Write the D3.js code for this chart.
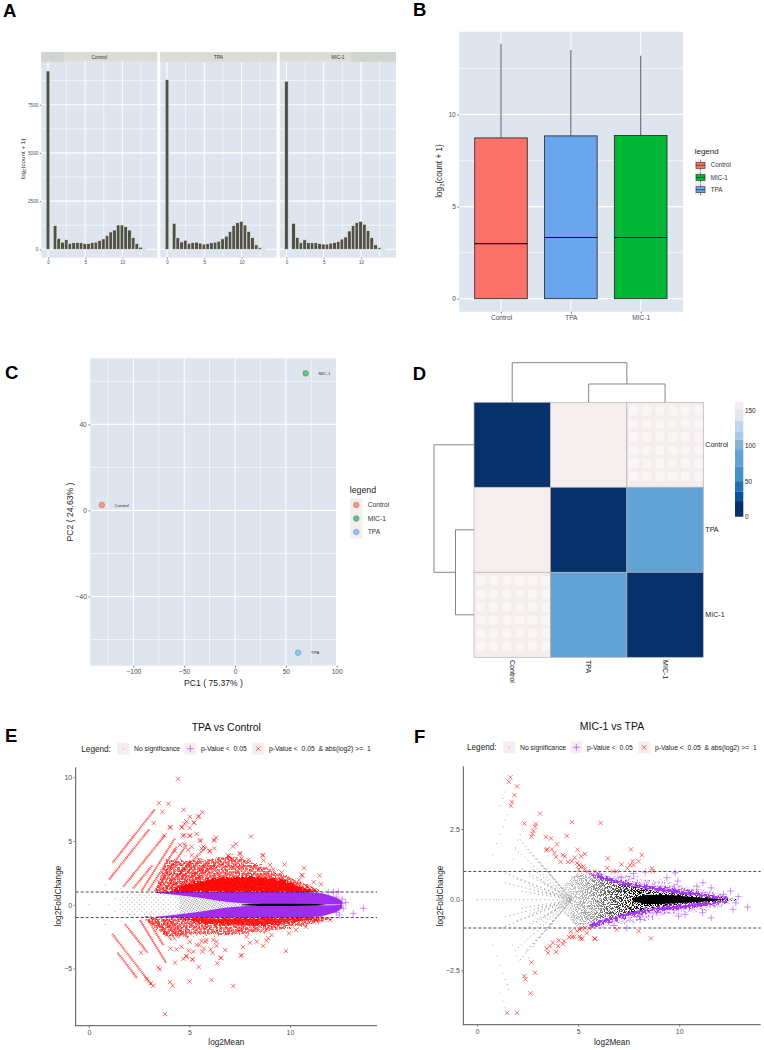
<!DOCTYPE html>
<html>
<head>
<meta charset="utf-8">
<style>
html, body { margin: 0; padding: 0; background: #fff; }
svg { display: block; }
text { font-family: "Liberation Sans", Arial, sans-serif; white-space: pre; }
</style>
<script src="https://cdnjs.cloudflare.com/ajax/libs/d3/7.8.5/d3.min.js"></script>
</head>
<body>
<svg id="fig" width="764" height="1050"></svg>
<script>
// panel A - histogram counts
const histBins = [0, 0.95, 1.45, 1.95, 2.45, 2.95, 3.45, 3.95, 4.45, 4.95, 5.45, 5.95, 6.45, 6.95, 7.45, 7.95, 8.45, 8.95, 9.45, 9.95, 10.45, 10.95, 11.45, 11.95, 12.45, 12.95];
const histControl = [9250, 1230, 570, 370, 500, 310, 340, 350, 340, 290, 300, 360, 370, 460, 540, 720, 900, 1000, 1260, 1260, 1180, 1000, 620, 300, 110, 20];
const histTPA = [8800, 1350, 600, 380, 470, 310, 350, 370, 320, 270, 290, 340, 370, 420, 540, 680, 930, 1230, 1380, 1450, 1260, 930, 610, 230, 80, 15];
const histMIC = [8720, 1350, 620, 340, 490, 350, 340, 350, 300, 270, 270, 320, 360, 410, 530, 640, 950, 1230, 1380, 1450, 1300, 970, 610, 230, 80, 15];

// panel B - boxes
const boxOrder = ['Control', 'TPA', 'MIC-1'];
const boxQ3 = [8.73, 8.84, 8.86];
const boxMedian = [2.99, 3.32, 3.32];
const boxQ1 = [0, 0, 0];
const boxTop = [13.84, 13.5, 13.2];
const boxColors = ['#fc7269', '#6aa5ee', '#00b735'];

// panel C - PCA
const pcaNames = ['Control', 'MIC-1', 'TPA'];
const pcaX = [-131, 69.5, 62];
const pcaY = [2.5, 63.7, -66.2];
const pcaColors = ['#f29b91', '#57c97f', '#8fc5f0'];
const pcaStroke = ['#b5776f', '#3f9a60', '#6d97b8'];

// panel D - distance matrix
const heatOrder = ['Control', 'TPA', 'MIC-1'];
const heatValues = [
    [0, 160, 161],
    [160, 0, 92],
    [161, 92, 0]
];
const heatSteps = [0, 22, 35, 50, 70, 95, 108, 120, 135, 150];
const heatColors = ['#08306b', '#08519c', '#2171b5', '#4292c6', '#62a3d6', '#8ab3d0', '#a9c9e8', '#bcd6f0', '#dee6f2', '#f6eeee'];
const dendroHeights = [160, 74];

// panel E - MA plot, dense parts are read as envelopes [m, outer, inner]
const eRedSparseUp = [[3.3, 1.0, 1], [3.86, 3.5, 1], [5.5, 3.5, 1], [7.2, 3.8, 1], [8.84, 2.9, 1], [10.5, 1.8, 1], [11.5, 1.15, 1], [11.7, 1, 1]];
const eRedDenseUp = [[4.0, 1.0, 1], [4.7, 1.55, 1], [6.35, 2.1, 1], [8, 2.2, 1], [9.67, 1.95, 1], [10.5, 1.4, 1], [11.3, 1.05, 1]];
const eRedSparseDown = [[2.7, -1, -1], [3.86, -2.5, -1], [5.5, -2.35, -1], [7.2, -2.35, -1], [8.84, -2.1, -1], [10.5, -1.7, -1], [12.1, -1.2, -1]];
const eRedDenseDown = [[4.2, -1, -1], [5.5, -1.45, -1], [7.2, -1.6, -1], [8.84, -1.6, -1], [10.5, -1.3, -1], [11.65, -1.05, -1]];
const ePurpleUp = [[3.3, 1, 0.95], [4.5, 1, 0.75], [5.5, 1, 0.55], [6.5, 1, 0.3], [7, 1, 0.2], [8, 1, 0.08], [9, 1, 0.05], [10.5, 1.02, 0.03], [11, 0.98, 0.03], [11.6, 0.9, 0.03], [12, 0.72, 0.03], [12.4, 0.5, 0.02], [12.6, 0.25, 0]];
const ePurpleDown = [[3.3, -1, -0.95], [4.5, -1, -0.75], [5.5, -1, -0.55], [6.5, -1, -0.3], [7, -1, -0.2], [8, -1, -0.08], [9, -1, -0.05], [10.5, -1.02, -0.03], [11, -0.98, -0.03], [11.6, -0.9, -0.03], [12, -0.72, -0.03], [12.4, -0.5, -0.02], [12.6, -0.25, 0]];
const eGrayLattice = [[1.5, 0.7, -0.7], [2.4, 1, -1], [3.3, 0.95, -0.95], [4.5, 0.75, -0.75]];
const eGrayWedge = [[4.5, 0.75, -0.75], [5.5, 0.55, -0.55], [6.5, 0.3, -0.3], [7, 0.2, -0.2], [8.2, 0.08, -0.08]];
const eBlackCore = [[7.6, 0.03, -0.03], [8.5, 0.09, -0.09], [10, 0.09, -0.09], [11.3, 0.06, -0.06], [11.8, 0, 0]];
const eRuns = [
    [1.18, 3.3, 3.28, 7.49], [1.01, 2.0, 3.0, 5.92], [1.71, 1.42, 3.78, 5.47], [2.2, 1.29, 3.17, 3.12],
    [2.62, 1.1, 4.28, 5.21], [2.95, 1.1, 4.36, 4.56], [3.28, 1.1, 4.86, 4.7], [3.7, 1.15, 5.85, 4.56],
    [4.0, 1.2, 5.6, 3.6], [4.3, 1.2, 6.0, 3.3], [4.7, 1.3, 6.3, 3.2],
    [1.16, -2.29, 3.12, -6.29], [1.79, -1.51, 2.92, -3.76], [1.43, -3.76, 2.4, -5.77], [2.54, -1.19, 3.83, -4.54],
    [2.95, -1.19, 3.7, -3.15], [3.28, -1.19, 4.1, -2.76], [3.7, -1.19, 4.5, -2.6], [4.0, -1.2, 4.9, -2.6]
];
const eRed = [
    [4.43, 9.88], [3.48, 7.97], [3.96, 7.92], [4.71, 7.45], [3.65, 7.29], [5.64, 7.26], [5.02, 6.9], [5.47, 6.95], [3.22, 6.4], [4.05, 6.09],
    [4.63, 6.09], [5.22, 6.45], [5.01, 6.03], [4.76, 6.35], [5.36, 5.56], [4.68, 5.41], [5.02, 5.43], [6.32, 5.27], [8.06, 5.35], [6.22, 5.04],
    [5.57, 5.04], [7.31, 4.78], [7.16, 4.57], [7.51, 4.04], [7.6, 3.65], [8.66, 3.86], [8.69, 3.47], [9.73, 3.15], [10.7, 2.87], [11.48, 2.29],
    [10.63, 2.29], [11.18, 1.77], [11.54, 1.61], [5.99, 4.2], [5.6, 4.41], [5.11, 3.89], [4.74, 4.75], [4.28, 4.23], [3.75, 5.43],
    [7.51, 3.98], [6.93, 3.86], [7.93, 3.52], [8.64, 3.9], [8.26, 3.12], [9.0, 3.12], [9.17, 2.78], [9.59, 2.53], [10.57, 2.34], [10.46, 1.95],
    [10.86, 1.41], [11.24, 1.16], [4.61, 6.07], [4.86, 6.52], [5.23, 6.44], [5.44, 6.9], [4.03, 6.07], [5.03, 5.42], [4.74, 5.47], [5.52, 5.03],
    [6.24, 5.08], [6.24, 4.43], [5.69, 4.56], [6.02, 4.22], [4.94, 4.3], [5.11, 4.56], [4.53, 4.69], [6.43, 3.56], [6.93, 3.84],
    [3.78, -8.57], [7.18, -6.37], [6.1, -5.88], [5.01, -6.01], [4.03, -6.06], [4.16, -6.35], [3.2, -6.35], [3.07, -6.16], [5.46, -4.88], [3.45, -4.91],
    [3.52, -5.06], [2.87, -5.82], [6.38, -4.59], [6.55, -4.18], [5.14, -4.3], [4.84, -3.99], [4.69, -4.23], [4.28, -4.54], [7.6, -3.94], [7.55, -3.99],
    [9.8, -3.63], [8.67, -3.23], [7.66, -3.31], [5.72, -3.42], [6.05, -3.49], [4.96, -3.6], [4.05, -3.44], [6.78, -3.55], [6.19, -2.76], [5.6, -2.84],
    [8.84, -2.81], [8.34, -2.89], [8.01, -2.97], [7.84, -2.5], [9.09, -2.37], [9.95, -2.24], [11.99, -1.19], [4.25, -2.63], [4.61, -3.29], [5.36, -3.15],
    [5.85, -2.76], [6.35, -2.89], [2.59, -3.76], [8.92, -2.63], [10.3, -1.98], [10.79, -1.72], [6.85, -2.24], [4.36, -3.5], [5.19, -3.68], [4.86, -4.07],
    [5.16, -4.28], [5.65, -3.68], [6.15, -3.76], [6.57, -4.15], [5.8, -2.9], [5.49, -3.16], [5.02, -2.9], [6.35, -3.22]
];
const ePurple = [[13.65, -0.27], [13.15, -0.67], [12.77, 0.17], [12.4, 1.03], [12.16, 0.98], [12.45, -0.8], [12.65, -0.27], [12.55, 0.1], [11.9, 1.0], [12.3, 0.6], [12.6, 0.45], [12.3, -0.6]];
const eGray = [[0, 0], [0.98, 0], [0.8, 1.55], [0.8, -1.55], [1.3, 0.5], [1.3, -0.5], [1.6, 1.3], [1.6, -1.3]];

// panel F - MA plot
const fRedUp = [
    [1.65, 4.33], [1.57, 4.17], [1.98, 4.01], [1.85, 3.7], [1.72, 3.46], [1.67, 3.33], [3.12, 3.05], [2.34, 2.7], [2.9, 2.68], [2.87, 2.59],
    [2.79, 2.44], [2.74, 2.33], [2.69, 2.23], [4.69, 2.75], [6.11, 2.72], [4.44, 2.26], [3.4, 2.22], [3.66, 2.17], [3.96, 1.96], [4.97, 1.77],
    [3.47, 1.79], [3.43, 1.75], [3.7, 1.78], [3.83, 1.65], [3.91, 1.51], [4.24, 1.58], [4.34, 1.54], [5.33, 1.62], [5.15, 1.54], [8.15, 1.58],
    [7.61, 1.78], [6.47, 1.46], [7.69, 1.37], [7.99, 1.36], [7.15, 1.25], [7.74, 1.23], [6.44, 1.12], [7.57, 1.23], [7.44, 1.11], [8.66, 1.11],
    [8.7, 1.01], [4.83, 1.49], [4.5, 1.34], [4.69, 1.36], [4.13, 1.34], [4.95, 1.3], [5.05, 1.23], [5.12, 1.16], [5.26, 1.18], [5.03, 1.07],
    [5.31, 1.07], [5.48, 1.0], [5.84, 1.0], [6.72, 1.0], [6.91, 1.0]
];
const fRedDown = [
    [1.49, -4], [1.98, -4], [2.64, -3.31], [2.34, -2.7], [2.39, -2.81], [2.87, -2.58], [2.69, -2.22], [3.45, -1.73], [3.51, -1.88], [3.61, -1.65],
    [3.75, -1.52], [3.91, -1.85], [4.01, -1.64], [4.04, -1.44], [4.26, -1.57], [4.31, -1.46], [4.55, -1.32], [4.69, -1.32], [4.79, -1.31], [5.07, -1.3],
    [5.12, -1.38], [5.21, -1.38], [5.43, -1.18], [5.81, -1.37], [5.84, -1.38], [6.91, -1.05], [7.99, -1.11], [8.6, -1.37], [4.64, -1.13], [4.93, -1.1],
    [5.07, -1.05], [5.18, -1.01], [5.35, -1.0], [5.54, -1.01]
];
const fPurple = [
    [8.32, 0.98], [9.8, 0.95], [9.39, 0.78], [9.93, 0.66], [10.87, 0.48], [11.17, 0.6], [11.58, 0.42], [12.19, 0.19], [12.54, 0.31], [12.92, 0.11],
    [12.8, -0.11], [13.38, -0.26], [12.66, -0.34], [11.58, -0.64], [11.16, -0.46], [10.29, -0.52], [9.97, -0.58], [8.89, -0.46], [8.07, -0.7], [6.78, -0.91],
    [6.09, 0.9], [7.13, 0.78], [7.74, 0.93], [8.04, -0.58], [7.41, -1.0]
];
const fGray = [
    [0, 0], [0.97, 0], [1.39, 3.81], [1.27, 3.58], [1.14, 3.33], [1.5, 3.02], [1.39, 2.82], [1.3, 2.58], [1.14, 2.31], [0.97, 1.99], [0.78, 1.58],
    [2.24, 2.49], [2.13, 2.31], [2.0, 2.11], [1.91, 1.84], [1.8, 1.43], [0.78, -1.6], [0.98, -2.0], [1.14, -2.32], [1.27, -2.6], [1.39, -2.82],
    [1.5, -3.0], [1.55, -3.17], [1.14, -3.31], [1.27, -3.58], [1.39, -3.8], [1.77, -1.6], [1.96, -2.0], [2.05, -2.18], [2.46, -1.82], [2.54, -2.06], [2.79, -1.65]
];
const fRays = [
    [2.13, 2.13], [2.46, 1.78], [1.88, 1.8], [2.79, 1.57], [3.12, 1.31], [3.45, 1.08], [1.2, 1.0], [1.96, 0.74], [1.39, 0.6], [2.21, 1.1], [2.79, 1.07],
    [3.0, 0.8], [3.3, 0.6], [2.6, 0.5], [3.0, 0.3], [2.2, 0.3], [3.6, 0.85], [2.6, 0.85], [3.4, 0.25],
    [2.13, -2.13], [2.46, -1.78], [1.88, -1.8], [2.79, -1.57], [3.12, -1.31], [3.45, -1.08], [1.2, -1.0], [1.96, -0.74], [1.39, -0.6], [2.21, -1.1], [2.79, -1.07],
    [3.0, -0.8], [3.3, -0.6], [2.6, -0.5], [3.0, -0.3], [2.2, -0.3], [3.6, -0.85], [2.6, -0.85], [3.4, -0.25],
    [0, 0]
];
const fRayCenter = [4.69, 0];
const fSpeckle = [[4.1, 0.3, -0.3], [4.9, 0.95, -0.92], [5.6, 0.85, -0.83], [7.24, 0.55, -0.5], [8.9, 0.3, -0.26], [10.56, 0.16, -0.14], [11.7, 0.08, -0.08], [12.9, 0.03, -0.03]];
const fBlackCore = [[7.7, 0.06, -0.06], [8.4, 0.18, -0.16], [9.7, 0.16, -0.13], [11.4, 0.05, -0.05], [12.3, 0, 0]];
const fPurpleUp = [[5.6, 0.95, 0.84], [7.24, 0.63, 0.54], [8.9, 0.45, 0.31], [10.56, 0.28, 0.15], [11.7, 0.16, 0.07], [12.4, 0.08, 0.03]];
const fPurpleDown = [[5.6, -1, -0.85], [7.24, -0.63, -0.49], [8.9, -0.39, -0.26], [10.56, -0.28, -0.13], [11.7, -0.16, -0.07], [12.4, -0.08, -0.03]];
const fPurpleScatterUp = [[5.6, 1, 0.9], [7.24, 0.85, 0.6], [8.9, 0.68, 0.4], [10.56, 0.45, 0.2], [11.7, 0.3, 0.12], [12.5, 0.1, 0.05]];
const fPurpleScatterDown = [[5.6, -1, -0.9], [7.24, -0.85, -0.55], [8.9, -0.62, -0.3], [10.56, -0.45, -0.2], [11.7, -0.32, -0.1], [12.5, -0.12, -0.05]];

const panelBg = '#dee5ee';
const tickGrey = '#4d4d4d';
const keyBg = '#f6eeee';
const redMark = '#ff0000';
const purpleMark = '#a22bf0';

const svg = d3.select('#fig');
const defs = svg.append('defs');

function addTile(id, size, bg, draw, rotate) {
    const tile = defs.append('pattern').attr('id', id)
        .attr('patternUnits', 'userSpaceOnUse')
        .attr('width', size).attr('height', size);
    if (rotate) tile.attr('patternTransform', `rotate(${rotate})`);
    if (bg) tile.append('rect').attr('width', size).attr('height', size).attr('fill', bg);
    draw(tile);
}
addTile('crossTile', 3.6, 'rgba(255,40,40,0.5)', t => t.append('path')
    .attr('d', 'M0.4,0.4L3.2,3.2M3.2,0.4L0.4,3.2').attr('stroke', redMark).attr('stroke-width', 0.7).attr('fill', 'none'));
addTile('plusTile', 4, 'rgba(162,43,240,0.2)', t => t.append('path')
    .attr('d', 'M2,0.3V3.7M0.3,2H3.7').attr('stroke', purpleMark).attr('stroke-width', 0.8).attr('fill', 'none'));
addTile('latticeDots', 3.4, null, t => t.append('rect').attr('width', 0.9).attr('height', 0.9).attr('fill', '#a5a5a5'), 45);
addTile('wedgeDots', 1.9, null, t => t.append('rect').attr('width', 1).attr('height', 1).attr('fill', '#8a8a8a'), 30);

// edge roughening and speckle so the dense clouds do not read as flat polygons
const rough = defs.append('filter').attr('id', 'rough')
    .attr('x', '-5%').attr('y', '-25%').attr('width', '110%').attr('height', '150%')
    .attr('color-interpolation-filters', 'sRGB');
rough.append('feTurbulence').attr('type', 'fractalNoise').attr('baseFrequency', 0.45).attr('numOctaves', 2).attr('seed', 4).attr('result', 'n');
rough.append('feDisplacementMap').attr('in', 'SourceGraphic').attr('in2', 'n').attr('scale', 8)
    .attr('xChannelSelector', 'R').attr('yChannelSelector', 'G');
const addSpeckle = (id, freq, slope, cut, shift) => {
    const sp = defs.append('filter').attr('id', id)
        .attr('x', '-5%').attr('y', '-25%').attr('width', '110%').attr('height', '150%')
        .attr('color-interpolation-filters', 'sRGB');
    sp.append('feTurbulence').attr('type', 'fractalNoise').attr('baseFrequency', freq).attr('numOctaves', 2).attr('seed', 9).attr('result', 'n');
    sp.append('feDisplacementMap').attr('in', 'SourceGraphic').attr('in2', 'n').attr('scale', shift)
        .attr('xChannelSelector', 'R').attr('yChannelSelector', 'G').attr('result', 'd');
    sp.append('feColorMatrix').attr('in', 'n').attr('type', 'matrix')
        .attr('values', `0 0 0 0 0  0 0 0 0 0  0 0 0 0 0  ${slope} 0 0 0 ${cut}`).attr('result', 'm');
    sp.append('feComposite').attr('in', 'd').attr('in2', 'm').attr('operator', 'in');
};
addSpeckle('speckleCoarse', 0.5, 14, -6.6, 9);
addSpeckle('speckleRed', 0.5, 14, -5.6, 9);
addSpeckle('speckleFine', 1.1, 16, -7.6, 4);

function letter(txt, x, y) {
    svg.append('text').attr('x', x).attr('y', y)
        .attr('font-size', 18.5).attr('font-weight', 'bold').attr('fill', '#000').text(txt);
}
letter('A', 3, 16.7);
letter('B', 413, 16);
letter('C', 5, 379);
letter('D', 412.7, 380);
letter('E', 5, 741.7);
letter('F', 414, 743);

// grey ggplot panel with grid
function ggPanel(x, y, xMajor, xMinor, yMajor, yMinor) {
    const [x0, x1] = x.range();
    const [y0, y1] = y.range();
    const g = svg.append('g');
    g.append('rect').attr('x', x0).attr('y', y1).attr('width', x1 - x0).attr('height', y0 - y1).attr('fill', panelBg);
    const vLine = (vals, w) => g.selectAll(null).data(vals).enter().append('line')
        .attr('x1', d => x(d)).attr('x2', d => x(d)).attr('y1', y0).attr('y2', y1)
        .attr('stroke', '#fff').attr('stroke-width', w);
    const hLine = (vals, w) => g.selectAll(null).data(vals).enter().append('line')
        .attr('y1', d => y(d)).attr('y2', d => y(d)).attr('x1', x0).attr('x2', x1)
        .attr('stroke', '#fff').attr('stroke-width', w);
    vLine(xMinor, 0.6); hLine(yMinor, 0.6);
    vLine(xMajor, 1.1); hLine(yMajor, 1.1);
    return g;
}

function styleAxis(g, size, color) {
    g.select('.domain').remove();
    g.selectAll('.tick line').attr('stroke', '#333').attr('stroke-width', 0.6);
    g.selectAll('.tick text').attr('font-size', size).attr('fill', color || tickGrey)
        .attr('font-family', '"Liberation Sans", Arial, sans-serif');
}

function logLabel(x, y, size) {
    const t = svg.append('text').attr('transform', `translate(${x},${y}) rotate(-90)`)
        .attr('text-anchor', 'middle').attr('font-size', size).attr('fill', '#222');
    t.append('tspan').text('log');
    t.append('tspan').attr('font-size', size * 0.7).attr('dy', size * 0.25).text('2');
    t.append('tspan').attr('dy', -size * 0.25).text('(count + 1)');
}

// A
const facetX = [[41.3, 157.3], [160.3, 276.7], [279.7, 396]];
const facetNames = ['Control', 'TPA', 'MIC-1'];
const facetData = [histControl, histTPA, histMIC];
const facetStripEdge = [[41.3, 64, '#d0d5d0', '#dcdcd3'], [160.3, 276.7, '#dcdcd3', '#dcdcd3'], [351, 396, '#d0d5d0', '#dcdcd3']];
const histY = d3.scaleLinear().domain([-436, 9730]).range([257.7, 61.7]);
facetX.forEach((range, i) => {
    const x = d3.scaleLinear().domain([-0.9, 14.7]).range(range);
    ggPanel(x, histY, [0, 5, 10], [2.5, 7.5, 12.5], [0, 2500, 5000, 7500], [1250, 3750, 6250, 8750]);
    svg.append('rect').attr('x', range[0]).attr('y', 52).attr('width', range[1] - range[0]).attr('height', 9.7)
        .attr('fill', facetStripEdge[i][3]);
    svg.append('rect').attr('x', facetStripEdge[i][0]).attr('y', 52)
        .attr('width', facetStripEdge[i][1] - facetStripEdge[i][0]).attr('height', 9.7)
        .attr('fill', facetStripEdge[i][2]);
    svg.append('text').attr('x', (range[0] + range[1]) / 2 ).attr('y', 59).attr('text-anchor', 'middle')
        .attr('font-size', 4.8).attr('fill', '#333').text(facetNames[i]);
    svg.append('g').selectAll('rect').data(facetData[i]).enter().append('rect')
        .attr('x', (d, k) => x(histBins[k]) - 1.85)
        .attr('width', 3.7)
        .attr('y', d => histY(d))
        .attr('height', d => histY(0) - histY(d))
        .attr('fill', '#4f5249')
        .attr('stroke', '#e8e8e0').attr('stroke-width', 0.7);
    svg.append('g').attr('transform', 'translate(0,257.7)')
        .call(d3.axisBottom(x).tickValues([0, 5, 10]).tickSize(1.5).tickPadding(1.5))
        .call(g => styleAxis(g, 4.6));
});
svg.append('g').attr('transform', 'translate(41.3,0)')
    .call(d3.axisLeft(histY).tickValues([0, 2500, 5000, 7500]).tickFormat(d3.format('d')).tickSize(1.5).tickPadding(1.5))
    .call(g => styleAxis(g, 4.6));
logLabel(24.5, 159, 6.2);

// B
const boxX = d3.scalePoint().domain(boxOrder).range([501, 640.7]);
const boxY = d3.scaleLinear().domain([-0.71, 14.5]).range([311.7, 31.7]);
ggPanel(d3.scaleLinear().domain([459.3, 683]).range([459.3, 683]), boxY, boxOrder.map(boxX), [], [0, 5, 10], [2.5, 7.5, 12.5]);
boxOrder.forEach((name, i) => {
    const cx = boxX(name);
    svg.append('line').attr('x1', cx).attr('x2', cx).attr('y1', boxY(boxTop[i])).attr('y2', boxY(boxQ3[i]))
        .attr('stroke', '#666').attr('stroke-width', 1.1);
    svg.append('rect').attr('x', cx - 26.3).attr('width', 52.6)
        .attr('y', boxY(boxQ3[i])).attr('height', boxY(boxQ1[i]) - boxY(boxQ3[i]))
        .attr('fill', boxColors[i]).attr('stroke', '#333').attr('stroke-width', 0.9);
    svg.append('line').attr('x1', cx - 26.3).attr('x2', cx + 26.3).attr('y1', boxY(boxMedian[i])).attr('y2', boxY(boxMedian[i]))
        .attr('stroke', '#111').attr('stroke-width', 1.2);
});
svg.append('g').attr('transform', 'translate(0,311.7)')
    .call(d3.axisBottom(boxX).tickSize(2).tickPadding(2))
    .call(g => styleAxis(g, 6.6));
svg.append('g').attr('transform', 'translate(459.3,0)')
    .call(d3.axisLeft(boxY).tickValues([0, 5, 10]).tickSize(2).tickPadding(1.5))
    .call(g => styleAxis(g, 6.6));
logLabel(441.5, 171, 8.2);
svg.append('text').attr('x', 694.7).attr('y', 154).attr('font-size', 8).attr('fill', '#222').text('legend');
const boxLegend = ['Control', 'MIC-1', 'TPA'];
const boxLegendColors = ['#fc7269', '#00b735', '#6aa5ee'];
const boxLegendY = d3.scalePoint().domain(boxLegend).range([165.3, 189.7]);
boxLegend.forEach((name, i) => {
    const cy = boxLegendY(name);
    svg.append('rect').attr('x', 695).attr('y', cy - 6).attr('width', 11).attr('height', 12).attr('fill', keyBg);
    svg.append('line').attr('x1', 700.5).attr('x2', 700.5).attr('y1', cy - 5.5).attr('y2', cy + 5.5).attr('stroke', '#444').attr('stroke-width', 0.6);
    svg.append('rect').attr('x', 696).attr('y', cy - 3).attr('width', 9).attr('height', 6)
        .attr('fill', boxLegendColors[i]).attr('stroke', '#333').attr('stroke-width', 0.6);
    svg.append('line').attr('x1', 696).attr('x2', 705).attr('y1', cy).attr('y2', cy).attr('stroke', '#222').attr('stroke-width', 0.6);
    svg.append('text').attr('x', 710.7).attr('y', cy + 2).attr('font-size', 6.3).attr('fill', '#333').text(name);
});

// C
const pcaScaleX = d3.scaleLinear().domain([-142.3, 100]).range([90.3, 336.7]);
const pcaScaleY = d3.scaleLinear().domain([-72.2, 70.7]).range([665.7, 358.3]);
ggPanel(pcaScaleX, pcaScaleY, [-100, -50, 0, 50, 100], [-125, -75, -25, 25, 75], [-40, 0, 40], [-60, -20, 20, 60]);
svg.append('g').selectAll('circle').data(pcaNames).enter().append('circle')
    .attr('cx', (d, i) => pcaScaleX(pcaX[i]))
    .attr('cy', (d, i) => pcaScaleY(pcaY[i]))
    .attr('r', 2.8)
    .attr('fill', (d, i) => pcaColors[i])
    .attr('stroke', (d, i) => pcaStroke[i]).attr('stroke-width', 0.6);
svg.append('g').selectAll('text').data(pcaNames).enter().append('text')
    .attr('x', (d, i) => pcaScaleX(pcaX[i]) + 12.8)
    .attr('y', (d, i) => pcaScaleY(pcaY[i]) + 1.5)
    .attr('font-size', 4.4).attr('fill', '#333').text(d => d);
svg.append('g').attr('transform', 'translate(0,665.7)')
    .call(d3.axisBottom(pcaScaleX).tickValues([-100, -50, 0, 50, 100]).tickFormat(d3.format('d')).tickSize(2).tickPadding(1.5))
    .call(g => styleAxis(g, 6.6));
svg.append('g').attr('transform', 'translate(90.3,0)')
    .call(d3.axisLeft(pcaScaleY).tickValues([-40, 0, 40]).tickFormat(d3.format('d')).tickSize(2).tickPadding(1.5))
    .call(g => styleAxis(g, 6.6));
svg.append('text').attr('x', 213.5).attr('y', 686).attr('text-anchor', 'middle').attr('font-size', 8.6).attr('fill', '#222').text('PC1 ( 75.37% )');
svg.append('text').attr('transform', 'translate(72.5,512) rotate(-90)').attr('text-anchor', 'middle').attr('font-size', 8.6).attr('fill', '#222').text('PC2 ( 24.63% )');
svg.append('text').attr('x', 349.7).attr('y', 493).attr('font-size', 8.8).attr('fill', '#222').text('legend');
const pcaLegendY = d3.scalePoint().domain(pcaNames).range([505, 532]);
pcaNames.forEach((name, i) => {
    const cy = pcaLegendY(name);
    svg.append('rect').attr('x', 350).attr('y', cy - 6.7).attr('width', 12.7).attr('height', 13.4).attr('fill', keyBg);
    svg.append('circle').attr('cx', 356.3).attr('cy', cy).attr('r', 2.8)
        .attr('fill', pcaColors[i]).attr('stroke', pcaStroke[i]).attr('stroke-width', 0.6);
    svg.append('text').attr('x', 367.7).attr('y', cy + 2.2).attr('font-size', 6.7).attr('fill', '#333').text(name);
});

// D
const heatX = d3.scaleBand().domain(heatOrder).range([474, 703.3]);
const heatY = d3.scaleBand().domain(heatOrder).range([402.3, 657.3]);
const heatColor = d3.scaleThreshold().domain(heatSteps.slice(1)).range(heatColors);
const cells = svg.append('g');
heatOrder.forEach((row, r) => {
    heatOrder.forEach((col, c) => {
        const v = heatValues[r][c];
        cells.append('rect').attr('x', heatX(col)).attr('y', heatY(row))
            .attr('width', heatX.bandwidth()).attr('height', heatY.bandwidth())
            .attr('fill', heatColor(v)).attr('stroke', '#b5b2b5').attr('stroke-width', 0.7);
        // the palest cells carry a faint block texture in the original
        if (v === 161) {
            d3.range(6).forEach(a => d3.range(6).forEach(b => {
                cells.append('rect')
                    .attr('x', heatX(col) + 2.5 + a * 12.9).attr('y', heatY(row) + 3.8 + b * 13.1)
                    .attr('width', 9).attr('height', 9.4).attr('rx', 3)
                    .attr('fill', '#f9f6f6');
            }));
        }
    });
});
const dendroTop = d3.scaleLinear().domain([0, 160]).range([402.3, 362.7]);
const dendroLeft = d3.scaleLinear().domain([0, 160]).range([474, 434]);
const cxOf = n => heatX(n) + heatX.bandwidth() / 2;
const cyOf = n => heatY(n) + heatY.bandwidth() / 2;
const subX = (cxOf('TPA') + cxOf('MIC-1')) / 2;
const subY = (cyOf('TPA') + cyOf('MIC-1')) / 2;
const dendroPath = d3.path();
dendroPath.moveTo(cxOf('TPA'), dendroTop(0));
dendroPath.lineTo(cxOf('TPA'), dendroTop(dendroHeights[1]));
dendroPath.lineTo(cxOf('MIC-1'), dendroTop(dendroHeights[1]));
dendroPath.lineTo(cxOf('MIC-1'), dendroTop(0));
dendroPath.moveTo(subX, dendroTop(dendroHeights[1]));
dendroPath.lineTo(subX, dendroTop(dendroHeights[0]));
dendroPath.lineTo(cxOf('Control'), dendroTop(dendroHeights[0]));
dendroPath.lineTo(cxOf('Control'), dendroTop(0));
dendroPath.moveTo(dendroLeft(0), cyOf('TPA'));
dendroPath.lineTo(dendroLeft(dendroHeights[1]), cyOf('TPA'));
dendroPath.lineTo(dendroLeft(dendroHeights[1]), cyOf('MIC-1'));
dendroPath.lineTo(dendroLeft(0), cyOf('MIC-1'));
dendroPath.moveTo(dendroLeft(dendroHeights[1]), subY);
dendroPath.lineTo(dendroLeft(dendroHeights[0]), subY);
dendroPath.lineTo(dendroLeft(dendroHeights[0]), cyOf('Control'));
dendroPath.lineTo(dendroLeft(0), cyOf('Control'));
svg.append('path').attr('d', dendroPath.toString()).attr('fill', 'none').attr('stroke', '#777').attr('stroke-width', 0.9);
heatOrder.forEach(name => {
    svg.append('text').attr('x', 705.3).attr('y', cyOf(name) + 2.3).attr('font-size', 7.1).attr('fill', '#222').text(name);
    svg.append('text').attr('transform', `translate(${cxOf(name) - 2.4},660) rotate(90)`)
        .attr('font-size', 7.1).attr('fill', '#222').text(name);
});
const barY = d3.scaleLinear().domain([0, 150]).range([516.7, 410]);
svg.append('g').selectAll('rect').data(heatSteps).enter().append('rect')
    .attr('x', 735).attr('width', 8.3)
    .attr('y', (d, i) => barY(i < heatSteps.length - 1 ? heatSteps[i + 1] : 161))
    .attr('height', (d, i) => barY(d) - barY(i < heatSteps.length - 1 ? heatSteps[i + 1] : 161))
    .attr('fill', (d, i) => heatColors[i]);
svg.append('g').attr('transform', 'translate(741,0)')
    .call(d3.axisRight(barY).tickValues([0, 50, 100, 150]).tickSize(0).tickPadding(4))
    .call(g => styleAxis(g, 6.4, '#222'));

// E / F
const symTimes = d3.symbol().type(d3.symbolTimes).size(14);
const symPlus = d3.symbol().type(d3.symbolPlus).size(18);

function maFrame(cfg) {
    const x = d3.scaleLinear().domain(cfg.xDomain).range(cfg.xRange);
    const y = d3.scaleLinear().domain(cfg.yDomain).range(cfg.yRange);
    svg.append('text').attr('x', cfg.titleX).attr('y', cfg.titleY).attr('text-anchor', 'middle')
        .attr('font-size', 10.5).attr('fill', '#111').text(cfg.title);
    svg.append('text').attr('x', cfg.legendX).attr('y', cfg.legendY + 2.8).attr('font-size', 8.2).attr('fill', '#222').text('Legend:');
    const keyNames = ['No significance', 'p-Value <  0.05', 'p-Value <  0.05  & abs(log2) >=  1'];
    keyNames.forEach((name, i) => {
        const kx = cfg.keyX[i];
        svg.append('rect').attr('x', kx).attr('y', cfg.legendY - 6).attr('width', 12).attr('height', 12).attr('fill', keyBg);
        const g = svg.append('g').attr('transform', `translate(${kx + 6},${cfg.legendY})`);
        if (i === 0) g.append('circle').attr('r', 0.5).attr('fill', '#888');
        if (i === 1) g.append('path').attr('d', symPlus()).attr('stroke', purpleMark).attr('stroke-width', 0.6).attr('fill', 'none');
        if (i === 2) g.append('path').attr('d', symTimes()).attr('stroke', redMark).attr('stroke-width', 0.6).attr('fill', 'none');
        svg.append('text').attr('x', kx + 16.7).attr('y', cfg.legendY + 2.2).attr('font-size', 6.8).attr('fill', '#222').text(name);
    });
    const area = d3.area().x(d => x(d[0])).y0(d => y(d[1])).y1(d => y(d[2]));
    const marks = svg.append('g');
    const band = (rows, fill, filter, op) => {
        const p = marks.append('path').attr('d', area(rows)).attr('fill', fill).attr('opacity', op === undefined ? 1 : op);
        if (filter) p.attr('filter', `url(#${filter})`);
        return p;
    };
    const scatter = (pts, sym, color, op) => marks.append('g').selectAll('path').data(pts).enter().append('path')
        .attr('transform', d => `translate(${x(d[0])},${y(d[1])})`)
        .attr('d', sym()).attr('fill', 'none').attr('stroke', color).attr('stroke-width', 0.7).attr('opacity', op);
    const dots = (pts) => marks.append('g').selectAll('circle').data(pts).enter().append('circle')
        .attr('cx', d => x(d[0])).attr('cy', d => y(d[1])).attr('r', 0.5).attr('fill', '#9a9a9a');
    return { x, y, marks, band, scatter, dots };
}

function maAxes(cfg, f) {
    const { x, y, marks } = f;
    marks.append('g').selectAll('line').data([1, -1]).enter().append('line')
        .attr('x1', cfg.xRange[0]).attr('x2', cfg.xRange[1])
        .attr('y1', d => y(d)).attr('y2', d => y(d))
        .attr('stroke', '#222').attr('stroke-width', 0.8).attr('stroke-dasharray', '3 2');
    svg.append('g').attr('transform', `translate(0,${cfg.yRange[0]})`)
        .call(d3.axisBottom(x).tickValues([0, 5, 10]).tickSize(2).tickPadding(2.5))
        .call(g => styleAxis(g, 7));
    svg.append('g').attr('transform', `translate(${cfg.xRange[0]},0)`)
        .call(d3.axisLeft(y).tickValues(cfg.yTicks).tickFormat(cfg.yFormat).tickSize(2).tickPadding(1.5))
        .call(g => styleAxis(g, 7));
    svg.append('line').attr('x1', cfg.xRange[0]).attr('x2', cfg.xRange[0]).attr('y1', cfg.yRange[0] + 0.5).attr('y2', cfg.yRange[1])
        .attr('stroke', '#555').attr('stroke-width', 1);
    svg.append('line').attr('x1', cfg.xRange[0]).attr('x2', cfg.xRange[1]).attr('y1', cfg.yRange[0]).attr('y2', cfg.yRange[0])
        .attr('stroke', '#555').attr('stroke-width', 1);
    svg.append('text').attr('x', cfg.xLabelX).attr('y', cfg.xLabelY).attr('text-anchor', 'middle')
        .attr('font-size', 8.2).attr('fill', '#222').text('log2Mean');
    svg.append('text').attr('transform', `translate(${cfg.yLabelX},${cfg.yLabelY}) rotate(-90)`)
        .attr('text-anchor', 'middle').attr('font-size', 8.3).attr('fill', '#222').text('log2FoldChange');
}

const eCfg = {
    title: 'TPA vs Control', titleX: 226.3, titleY: 731,
    legendX: 81.3, legendY: 748.7, keyX: [117.3, 184.3, 252.3],
    xDomain: [-0.66, 14.33], xRange: [75.7, 377],
    yDomain: [-9.48, 10.78], yRange: [1025.7, 767.3],
    yTicks: [-5, 0, 5, 10], yFormat: d3.format('d'),
    xLabelX: 226.3, xLabelY: 1045, yLabelX: 60.5, yLabelY: 896
};
const e = maFrame(eCfg);
e.band(eGrayLattice, 'url(#latticeDots)');
e.band(eGrayWedge, 'url(#wedgeDots)');
e.band(eRedSparseUp, 'url(#crossTile)', 'speckleRed');
e.band(eRedSparseDown, 'url(#crossTile)', 'speckleRed');
e.band(eRedDenseUp, redMark, 'rough', 0.92);
e.band(eRedDenseDown, redMark, 'rough', 0.8);
const runs = e.marks.append('g');
runs.selectAll('line.halo').data(eRuns).enter().append('line').attr('class', 'halo')
    .attr('x1', d => e.x(d[0])).attr('y1', d => e.y(d[1]))
    .attr('x2', d => e.x(d[2])).attr('y2', d => e.y(d[3]))
    .attr('stroke', redMark).attr('stroke-width', 2.8).attr('stroke-dasharray', '0.8 1.1').attr('opacity', 0.6);
runs.selectAll('line.core').data(eRuns).enter().append('line').attr('class', 'core')
    .attr('x1', d => e.x(d[0])).attr('y1', d => e.y(d[1]))
    .attr('x2', d => e.x(d[2])).attr('y2', d => e.y(d[3]))
    .attr('stroke', redMark).attr('stroke-width', 0.6).attr('opacity', 0.75);
e.band(ePurpleUp, purpleMark);
e.band(ePurpleDown, purpleMark);
e.band(eBlackCore, '#000');
e.dots(eGray);
e.scatter(eRed, symTimes, redMark, 0.8);
e.scatter(ePurple, symPlus, purpleMark, 0.7);
maAxes(eCfg, e);

const fCfg = {
    title: 'MIC-1 vs TPA', titleX: 612, titleY: 730,
    legendX: 467, legendY: 747.3, keyX: [503.3, 570.3, 638.3],
    xDomain: [-0.68, 14.03], xRange: [463.3, 760.7],
    yDomain: [-4.42, 4.72], yRange: [1024.7, 766.3],
    yTicks: [-2.5, 0, 2.5], yFormat: d3.format('.1f'),
    xLabelX: 612, xLabelY: 1045, yLabelX: 443, yLabelY: 896
};
const f = maFrame(fCfg);
const fade = defs.append('linearGradient').attr('id', 'fanFade')
    .attr('gradientUnits', 'userSpaceOnUse')
    .attr('x1', f.x(4.2)).attr('x2', f.x(8)).attr('y1', 0).attr('y2', 0);
fade.append('stop').attr('offset', 0).attr('stop-color', '#dcdcdc');
fade.append('stop').attr('offset', 0.4).attr('stop-color', '#9a9a9a');
fade.append('stop').attr('offset', 0.75).attr('stop-color', '#3a3a3a');
fade.append('stop').attr('offset', 1).attr('stop-color', '#000');
f.marks.append('g').selectAll('line').data(fRays).enter().append('line')
    .attr('x1', d => f.x(d[0])).attr('y1', d => f.y(d[1]))
    .attr('x2', f.x(fRayCenter[0])).attr('y2', f.y(fRayCenter[1]))
    .attr('stroke', '#8f8f8f').attr('stroke-width', 0.9).attr('stroke-dasharray', '1 3.2');
f.band(fSpeckle, 'url(#fanFade)', 'speckleFine');
f.band(fPurpleScatterUp, 'url(#plusTile)', 'speckleCoarse');
f.band(fPurpleScatterDown, 'url(#plusTile)', 'speckleCoarse');
f.band(fPurpleUp, purpleMark, 'rough', 0.95);
f.band(fPurpleDown, purpleMark, 'rough', 0.95);
f.band(fBlackCore, '#000');
f.dots(fGray);
f.scatter(fRedUp, symTimes, redMark, 0.8);
f.scatter(fRedDown, symTimes, redMark, 0.8);
f.scatter(fPurple, symPlus, purpleMark, 0.7);
maAxes(fCfg, f);
</script>
</body>
</html>
